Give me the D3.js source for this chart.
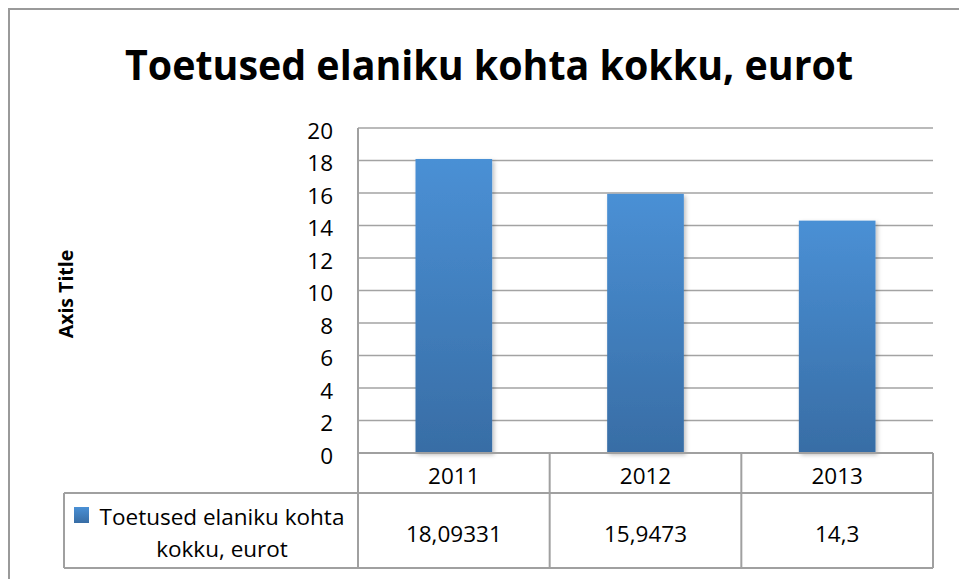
<!DOCTYPE html>
<html>
<head>
<meta charset="utf-8">
<script src="https://cdn.jsdelivr.net/npm/d3@7"></script>
<style>
  body { margin: 0; background: #fff; }
  text { font-family: "Open Sans", "Noto Sans", sans-serif; fill: #000; }
</style>
</head>
<body>
<div id="chart"></div>
<script>
// chart data
const years = ["2011", "2012", "2013"];
const values = [18.09331, 15.9473, 14.3];
const valueLabels = ["18,09331", "15,9473", "14,3"];
const yTicks = [0, 2, 4, 6, 8, 10, 12, 14, 16, 18, 20];
const seriesName = "Toetused elaniku kohta kokku, eurot";

const W = 959, H = 579;
const plot = {left: 358, right: 933, top: 128, bottom: 453};
const row1 = 493, row2 = 568, tableLeft = 64;

const svg = d3.select("#chart").append("svg")
    .attr("width", W)
    .attr("height", H);

const defs = svg.append("defs");
const grad = defs.append("linearGradient")
    .attr("id", "barGrad")
    .attr("x1", 0).attr("y1", 0).attr("x2", 0).attr("y2", 1);
grad.append("stop").attr("offset", "0%").attr("stop-color", "#4a90d5");
grad.append("stop").attr("offset", "100%").attr("stop-color", "#386da5");

const shadow = defs.append("filter").attr("id", "shadow")
    .attr("x", "-20%").attr("y", "-5%").attr("width", "140%").attr("height", "110%");
shadow.append("feDropShadow")
    .attr("dx", 2).attr("dy", 2).attr("stdDeviation", 2)
    .attr("flood-color", "#000").attr("flood-opacity", 0.25);

// outer chart border (left and top visible)
svg.append("path")
    .attr("d", `M9,${H} L9,9 L${W},9`)
    .attr("fill", "none")
    .attr("stroke", "#9a9a9a")
    .attr("stroke-width", 2);

// title
svg.append("text")
    .attr("x", 489)
    .attr("y", 80)
    .attr("text-anchor", "middle")
    .attr("font-size", 42)
    .attr("font-weight", "bold")
    .attr("textLength", 728)
    .attr("lengthAdjust", "spacingAndGlyphs")
    .text(seriesName);

const x = d3.scaleBand()
    .domain(years)
    .range([plot.left, plot.right])
    .paddingInner(0.6)
    .paddingOuter(0.3);

const y = d3.scaleLinear()
    .domain([0, 20])
    .range([plot.bottom, plot.top]);

// gridlines
svg.append("g")
  .selectAll("line")
  .data(yTicks.filter(d => d > 0))
  .join("line")
    .attr("x1", plot.left)
    .attr("x2", plot.right)
    .attr("y1", d => y(d))
    .attr("y2", d => y(d))
    .attr("stroke", "#a3a3a3")
    .attr("stroke-width", 1.5);

// y axis labels
const yAxis = svg.append("g")
    .attr("transform", `translate(${plot.left},3)`)
    .call(d3.axisLeft(y).tickValues(yTicks).tickSize(0).tickPadding(25));
yAxis.select(".domain").remove();
yAxis.selectAll("text")
    .attr("font-size", 22.5)
    .attr("font-family", "Open Sans, sans-serif")
    .attr("fill", "#000");

// bars
svg.append("g")
  .selectAll("rect")
  .data(values)
  .join("rect")
    .attr("x", (d, i) => x(years[i]))
    .attr("y", d => y(d))
    .attr("width", x.bandwidth())
    .attr("height", d => y(0) - y(d))
    .attr("fill", "url(#barGrad)")
    .attr("filter", "url(#shadow)");

// axis title
svg.append("text")
    .attr("transform", "translate(73,294) rotate(-90)")
    .attr("text-anchor", "middle")
    .attr("font-size", 19.5)
    .attr("font-weight", "bold")
    .text("Axis Title");

// data table
const lineColor = "#a0a0a0";
const table = svg.append("g")
    .attr("fill", "none")
    .attr("stroke", lineColor)
    .attr("stroke-width", 2);

// y axis line extended through the year row
table.append("line")
    .attr("x1", plot.left).attr("x2", plot.left)
    .attr("y1", plot.top).attr("y2", row2);
// zero line / top of table
table.append("line")
    .attr("x1", plot.left).attr("x2", plot.right)
    .attr("y1", plot.bottom).attr("y2", plot.bottom);
table.append("line")
    .attr("x1", tableLeft).attr("x2", plot.right)
    .attr("y1", row1).attr("y2", row1);
table.append("line")
    .attr("x1", tableLeft).attr("x2", plot.right)
    .attr("y1", row2).attr("y2", row2);
table.append("line")
    .attr("x1", tableLeft).attr("x2", tableLeft)
    .attr("y1", row1).attr("y2", row2);

const step = x.step();
const colEdges = years.map((d, i) => plot.left + step * (i + 1));
table.selectAll(".col")
  .data(colEdges)
  .join("line")
    .attr("x1", d => d).attr("x2", d => d)
    .attr("y1", plot.bottom).attr("y2", row2);

// year labels
svg.append("g")
  .selectAll("text")
  .data(years)
  .join("text")
    .attr("x", d => x(d) + x.bandwidth() / 2)
    .attr("y", 484)
    .attr("text-anchor", "middle")
    .attr("font-size", 22.5)
    .text(d => d);

// value labels
svg.append("g")
  .selectAll("text")
  .data(valueLabels)
  .join("text")
    .attr("x", (d, i) => x(years[i]) + x.bandwidth() / 2)
    .attr("y", 542)
    .attr("text-anchor", "middle")
    .attr("font-size", 22.5)
    .text(d => d);

// legend key and series name
svg.append("rect")
    .attr("x", 74).attr("y", 507)
    .attr("width", 15).attr("height", 16)
    .attr("fill", "url(#barGrad)");

const legendText = svg.append("text")
    .attr("text-anchor", "middle")
    .attr("font-size", 22.5);
legendText.append("tspan")
    .attr("x", 222).attr("y", 525)
    .text("Toetused elaniku kohta");
legendText.append("tspan")
    .attr("x", 222).attr("y", 557)
    .text("kokku, eurot");
</script>
</body>
</html>
